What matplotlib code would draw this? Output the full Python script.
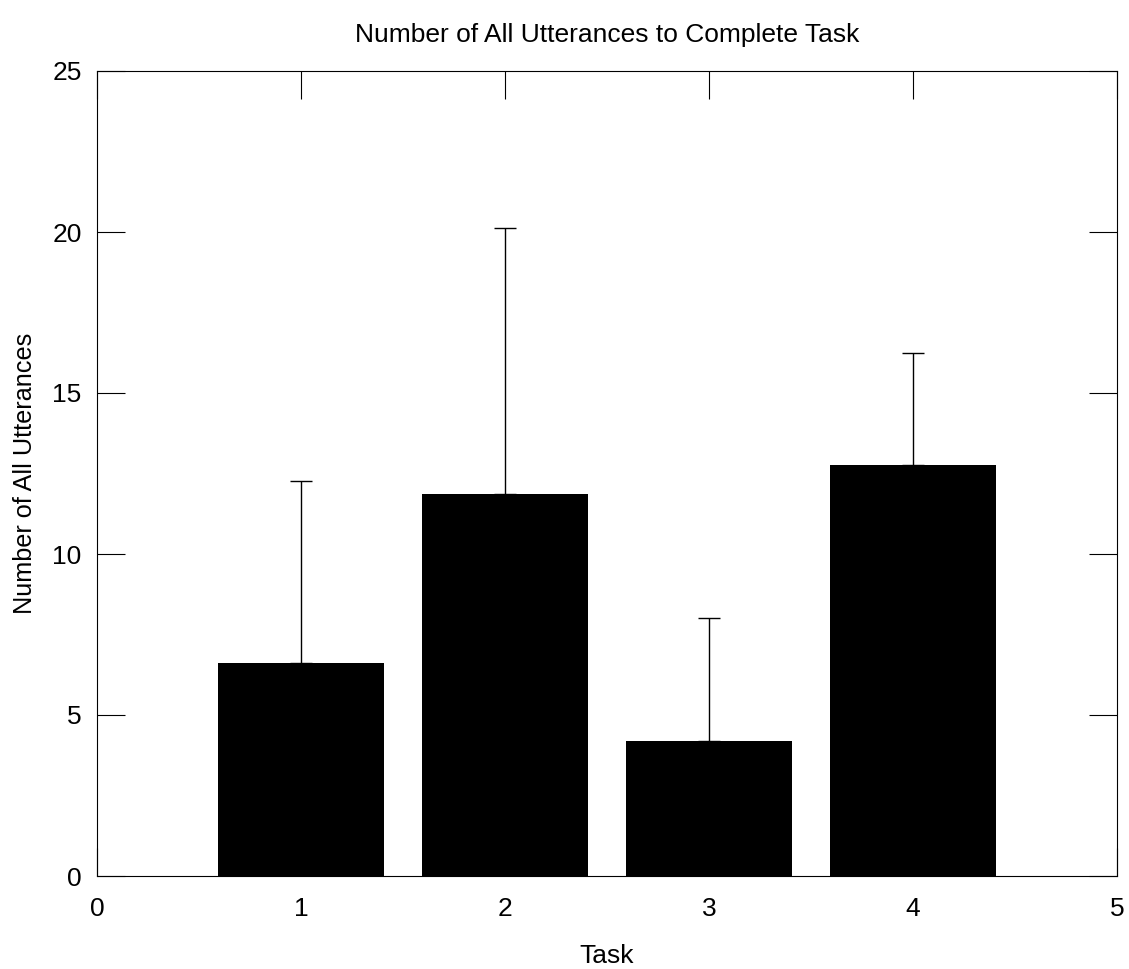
import matplotlib.pyplot as plt

# data
tasks = [1, 2, 3, 4]
mean_utterances = [6.62, 11.86, 4.19, 12.77]
err_upper = [5.66, 8.27, 3.83, 3.47]

plt.rcParams['font.family'] = ['Liberation Sans', 'DejaVu Sans']

fig = plt.figure(figsize=(11.29, 9.69), dpi=100)
ax = fig.add_axes([97 / 1129, 1 - 876 / 969, 1020 / 1129, 805 / 969])

ax.bar(tasks, mean_utterances, width=0.81, color='black', edgecolor='none')
ax.errorbar(tasks, mean_utterances, yerr=[[0] * len(tasks), err_upper],
            fmt='none', ecolor='black', elinewidth=1.0, capsize=8, capthick=1.0)

ax.set_xlim(0, 5)
ax.set_ylim(0, 25)
ax.set_xticks(range(0, 6))
ax.set_yticks(range(0, 26, 5))
ax.tick_params(direction='in', length=20, width=0.8, top=True, right=True,
               labelsize=19)
ax.tick_params(axis='x', pad=15)
ax.tick_params(axis='y', pad=11)
for s in ax.spines.values():
    s.set_linewidth(0.8)

ax.set_title('Number of All Utterances to Complete Task', fontsize=19, pad=21)
ax.set_xlabel('Task', fontsize=19, labelpad=17)
ax.set_ylabel('Number of All Utterances', fontsize=18.2, labelpad=11)

fig.savefig('out.png', dpi=100)
